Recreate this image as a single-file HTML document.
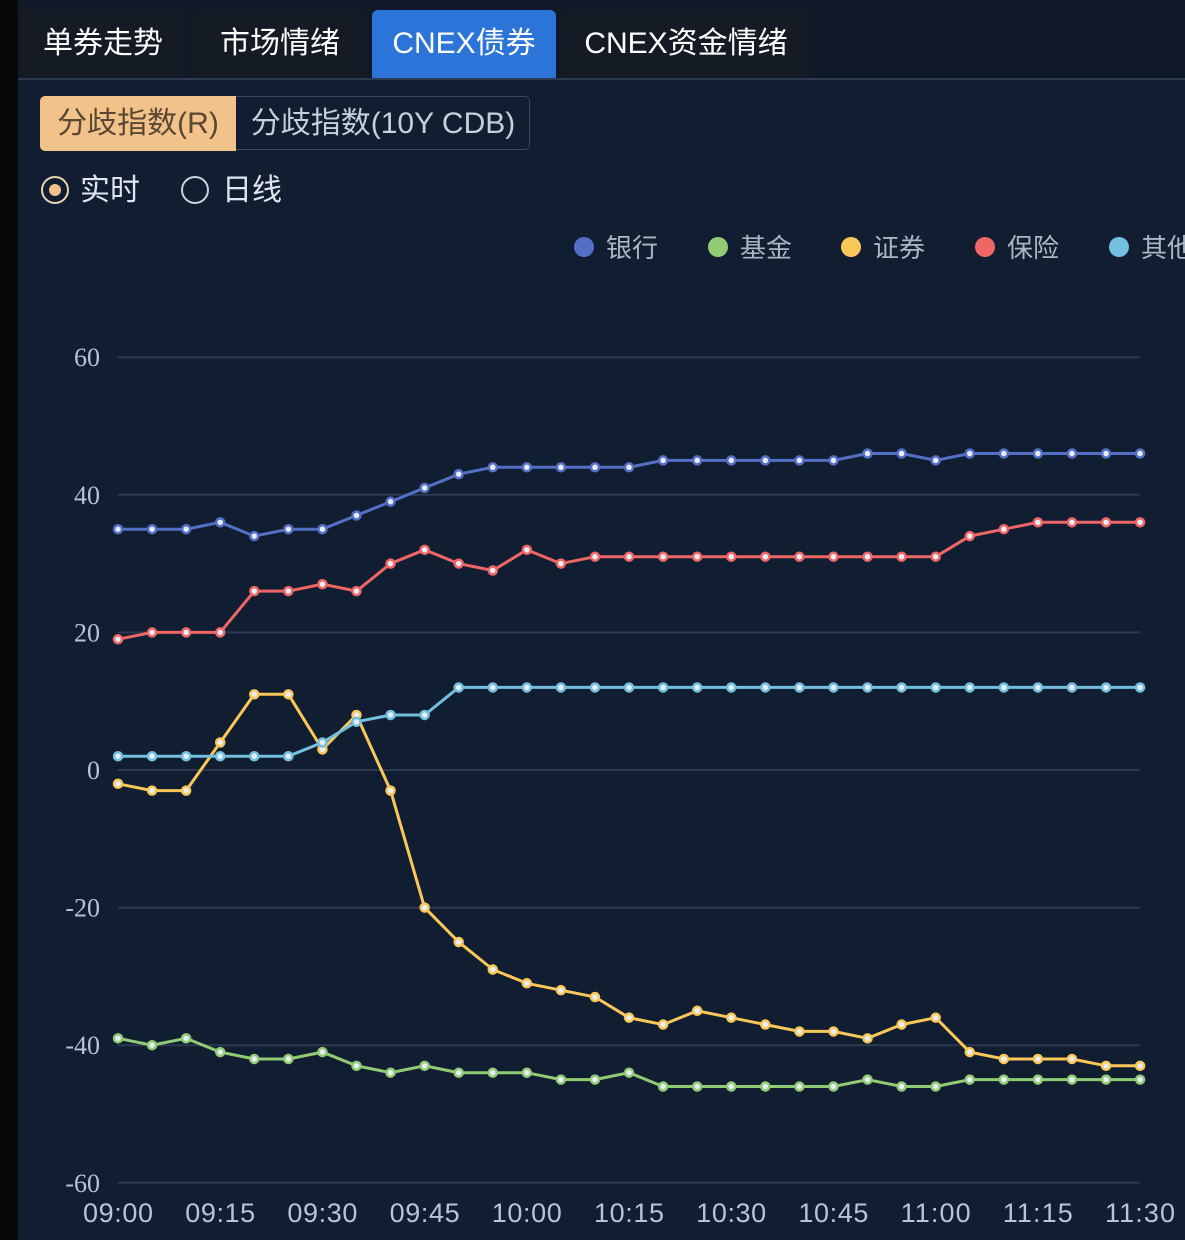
<!DOCTYPE html>
<html><head><meta charset="utf-8"><style>
html,body{margin:0;padding:0;width:1185px;height:1240px;overflow:hidden;background:#111d30;font-family:"Liberation Sans","Noto Sans CJK SC",sans-serif;}
.strip{position:absolute;left:0;top:0;width:18px;height:1240px;background:#080808;}
.topbar{position:absolute;left:18px;top:0;width:1167px;height:78px;background:#111827;border-bottom:2px solid #2c3a50;}
.tab{position:absolute;top:10px;height:68px;background:#151b24;color:#fff;font-size:30px;line-height:68px;text-align:center;border-radius:6px 6px 0 0;}
.seg{position:absolute;top:96px;left:40px;width:490px;height:54px;border:1px solid #3a475c;border-radius:5px;box-sizing:border-box;}
.s1{position:absolute;left:40px;top:96px;width:196px;height:55px;background:#f2c28b;border-radius:5px 0 0 5px;color:#5b4632;font-size:30px;line-height:55px;text-align:center;}
.s2{position:absolute;left:236px;top:96px;width:294px;height:55px;color:#c4cfe0;font-size:30px;line-height:55px;text-align:center;}
.radio{position:absolute;top:174px;font-size:30px;color:#dfe6f0;line-height:34px;}
.circ{position:absolute;top:176px;width:28px;height:28px;border:2px solid #c8d3e3;border-radius:50%;box-sizing:border-box;}
</style></head><body>
<div class="strip"></div>
<div class="topbar"></div>
<div class="tab" style="left:20px;width:166px;">单券走势</div>
<div class="tab" style="left:194px;width:172px;">市场情绪</div>
<div class="tab" style="left:372px;width:184px;background:#2c74d8;">CNEX债券</div>
<div class="tab" style="left:562px;width:248px;">CNEX资金情绪</div>
<div class="seg"></div>
<div class="s1">分歧指数(R)</div>
<div class="s2">分歧指数(10Y CDB)</div>
<div class="circ" style="left:41px;border-color:#e9d2b4"><div style="position:absolute;left:6px;top:6px;width:12px;height:12px;border-radius:50%;background:#f2c28b"></div></div>
<div class="radio" style="left:80px;">实时</div>
<div class="circ" style="left:181px;"></div>
<div class="radio" style="left:222px;">日线</div>
<svg id="c" width="1185" height="1240" style="position:absolute;left:0;top:0"></svg>
<script>
var s=document.getElementById('c'),h='';
function Y(v){return 770-v*6.88;}
function X(i){return 118+i*34.07;}
[60,40,20,0,-20,-40,-60].forEach(function(v){var y=Y(v);
h+='<line x1="118" x2="1140" y1="'+y+'" y2="'+y+'" stroke="#2a3850" stroke-width="2"/>';
h+='<text x="100" y="'+(y+9)+'" text-anchor="end" fill="#b7c3d6" font-family="Liberation Serif, serif" font-size="26">'+v+'</text>';});
var t=['09:00','09:15','09:30','09:45','10:00','10:15','10:30','10:45','11:00','11:15','11:30'];
t.forEach(function(l,i){h+='<text x="'+(118+i*102.2)+'" y="1222" text-anchor="middle" fill="#b7c3d6" font-family="Liberation Sans Narrow, Liberation Sans, sans-serif" font-size="27" textLength="70">'+l+'</text>';});
var D=[
['#5470c6',[35,35,35,36,34,35,35,37,39,41,43,44,44,44,44,44,45,45,45,45,45,45,46,46,45,46,46,46,46,46,46]],
['#91cc75',[-39,-40,-39,-41,-42,-42,-41,-43,-44,-43,-44,-44,-44,-45,-45,-44,-46,-46,-46,-46,-46,-46,-45,-46,-46,-45,-45,-45,-45,-45,-45]],
['#fac858',[-2,-3,-3,4,11,11,3,8,-3,-20,-25,-29,-31,-32,-33,-36,-37,-35,-36,-37,-38,-38,-39,-37,-36,-41,-42,-42,-42,-43,-43]],
['#ee6666',[19,20,20,20,26,26,27,26,30,32,30,29,32,30,31,31,31,31,31,31,31,31,31,31,31,34,35,36,36,36,36]],
['#73c0de',[2,2,2,2,2,2,4,7,8,8,12,12,12,12,12,12,12,12,12,12,12,12,12,12,12,12,12,12,12,12,12]]];
D.forEach(function(d){var p=d[1].map(function(v,i){return X(i).toFixed(1)+','+Y(v).toFixed(1)}).join(' ');
h+='<polyline points="'+p+'" fill="none" stroke="'+d[0]+'" stroke-width="3"/>';
d[1].forEach(function(v,i){h+='<circle cx="'+X(i)+'" cy="'+Y(v)+'" r="4" fill="#e8eef8" stroke="'+d[0]+'" stroke-width="2.5"/>';});});
var L=[['#5470c6','银行',584],['#91cc75','基金',718],['#fac858','证券',851],['#ee6666','保险',985],['#73c0de','其他',1119]];
L.forEach(function(l){h+='<circle cx="'+l[2]+'" cy="247" r="10" fill="'+l[0]+'"/><text x="'+(l[2]+22)+'" y="257" fill="#aab6c8" font-size="26" font-family="Liberation Sans, Noto Sans CJK SC, sans-serif">'+l[1]+'</text>';});
s.innerHTML=h;
</script>
</body></html>
